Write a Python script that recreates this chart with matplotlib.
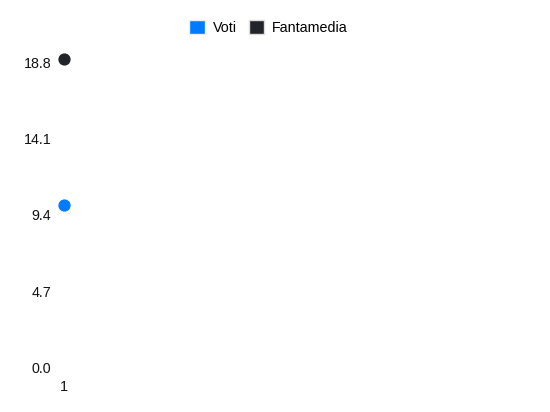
import matplotlib
matplotlib.use("Agg")
from matplotlib import pyplot as plt
from matplotlib.patches import Patch

giornate = [1]
voti = [10]
fantamedia = [19]
y_ticks = [0.0, 4.7, 9.4, 14.1, 18.8]

plt.rcParams['font.family'] = ['Liberation Sans', 'DejaVu Sans']

fig = plt.figure(figsize=(5.5, 4.12), dpi=100)
ax = fig.add_axes([64 / 550, 1 - 367.7 / 412, (540 - 64) / 550, (367.7 - 62.3) / 412])

ax.plot(giornate, voti, 'o', color='#007bff', markersize=7.8, clip_on=False, zorder=3)
ax.plot(giornate, fantamedia, 'o', color='#212529', markersize=7.8, clip_on=False, zorder=3)

ax.set_xlim(1, 2)
ax.set_ylim(0, 18.8)
ax.set_xticks(giornate)
ax.set_xticklabels([str(g) for g in giornate])
ax.set_yticks(y_ticks)
ax.set_yticklabels(['%.1f' % t for t in y_ticks])
ax.tick_params(length=0, labelsize=10.3, colors='#111111')
ax.tick_params(axis='y', pad=9)
ax.tick_params(axis='x', pad=9)
for s in ax.spines.values():
    s.set_visible(False)

handles = [Patch(facecolor='#007bff', edgecolor='#e8f0ff', label='Voti'),
           Patch(facecolor='#212529', edgecolor='#dddddd', label='Fantamedia')]
fig.legend(handles=handles, loc='center', bbox_to_anchor=(268.5 / 550, 1 - 27.5 / 412),
           ncol=2, frameon=False, fontsize=10.3, handlelength=1.1, handleheight=1.1,
           handletextpad=0.55, columnspacing=0.85)

fig.savefig('out.png', dpi=100)
